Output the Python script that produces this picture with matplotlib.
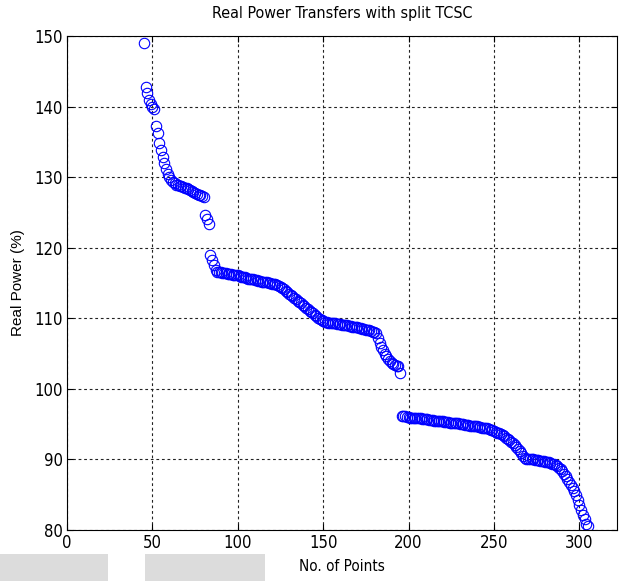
import matplotlib
matplotlib.use('Agg')
import matplotlib.pyplot as plt
import numpy as np
from matplotlib.patches import Rectangle
from matplotlib import font_manager

# first sample index of the series
first_point = 45

# real power (%), one value per point, in four runs
power_a = [149.0, 142.8, 141.9, 141.0, 140.4, 140.0, 139.6, 137.3, 136.2, 134.8,
           133.9, 132.8, 132.0, 131.2, 130.5, 130.0, 129.6, 129.3, 129.1, 128.9,
           128.9, 128.8, 128.7, 128.6, 128.5, 128.4, 128.3, 128.2, 128.0, 127.9,
           127.8, 127.6, 127.5, 127.4, 127.3, 127.2]
power_b = [124.6, 124.0, 123.3]
power_c = [118.9, 118.2, 117.5, 116.9, 116.6, 116.5, 116.5, 116.4, 116.4, 116.4,
           116.3, 116.3, 116.3, 116.2, 116.2, 116.1, 116.1, 116.0, 115.9, 115.8,
           115.8, 115.7, 115.6, 115.6, 115.5, 115.5, 115.4, 115.4, 115.3, 115.3,
           115.2, 115.2, 115.1, 115.1, 115.0, 115.0, 114.9, 114.9, 114.8, 114.7,
           114.6, 114.5, 114.3, 114.1, 113.9, 113.7, 113.5, 113.3, 113.1, 112.9,
           112.7, 112.5, 112.3, 112.1, 111.9, 111.7, 111.5, 111.3, 111.1, 110.9,
           110.7, 110.5, 110.3, 110.1, 109.9, 109.7, 109.6, 109.5, 109.5, 109.4,
           109.4, 109.3, 109.3, 109.3, 109.2, 109.2, 109.2, 109.1, 109.1, 109.0,
           109.0, 108.9, 108.9, 108.8, 108.8, 108.7, 108.7, 108.6, 108.6, 108.5,
           108.5, 108.4, 108.3, 108.3, 108.2, 108.1, 108.0, 107.9, 107.2, 106.5,
           106.0, 105.5, 105.0, 104.6, 104.2, 103.9, 103.7, 103.5, 103.4, 103.3,
           103.2, 102.2]
power_d = [96.2, 96.1, 96.1, 96.0, 96.0, 95.9, 95.9, 95.9, 95.8, 95.8,
           95.8, 95.8, 95.7, 95.7, 95.7, 95.7, 95.6, 95.6, 95.6, 95.5,
           95.5, 95.5, 95.4, 95.4, 95.4, 95.3, 95.3, 95.3, 95.2, 95.2,
           95.2, 95.1, 95.1, 95.1, 95.0, 95.0, 95.0, 94.9, 94.9, 94.9,
           94.8, 94.8, 94.8, 94.7, 94.7, 94.6, 94.6, 94.5, 94.5, 94.4,
           94.4, 94.3, 94.2, 94.1, 94.0, 93.9, 93.8, 93.7, 93.6, 93.4,
           93.3, 93.1, 92.9, 92.7, 92.5, 92.3, 92.0, 91.8, 91.5, 91.2,
           90.9, 90.5, 90.2, 90.1, 90.1, 90.0, 90.0, 90.0, 89.9, 89.9,
           89.9, 89.8, 89.8, 89.8, 89.7, 89.7, 89.6, 89.5, 89.4, 89.3,
           89.2, 89.0, 88.8, 88.6, 88.3, 88.0, 87.6, 87.2, 86.8, 86.4,
           86.0, 85.5, 84.9, 84.2, 83.6, 82.8, 82.1, 81.5, 80.9, 80.5]

x_ticks = [0, 50, 100, 150, 200, 250, 300]
y_ticks = [80, 90, 100, 110, 120, 130, 140, 150]

power = np.array(power_a + power_b + power_c + power_d)
points = np.arange(first_point, first_point + len(power))

# narrow face for ticks / title, like the matlab export
installed = {f.name for f in font_manager.fontManager.ttflist}
if 'Liberation Sans Narrow' in installed:
    narrow = dict(family=['Liberation Sans Narrow', 'DejaVu Sans'])
else:
    narrow = dict(family=['DejaVu Sans'], stretch='condensed')

fig = plt.figure(figsize=(6.2, 5.81), dpi=100)
ax = fig.add_axes([67/620, 1 - 530/581, 550/620, 494/581])

ax.plot(points, power, 'o', markerfacecolor='none', markeredgecolor='#0000ff',
        markersize=7.5, markeredgewidth=0.8)

ax.set_xlim(0, 322)
ax.set_ylim(80, 150)
ax.set_xticks(x_ticks)
ax.set_yticks(y_ticks)
ax.grid(True, color='#222222', linestyle=(0, (2.5, 2.5)), linewidth=0.8)
ax.tick_params(direction='in', top=True, right=True, length=4, width=0.8,
               labelsize=12, pad=3)
for lab in ax.get_xticklabels() + ax.get_yticklabels():
    lab.set_fontproperties(font_manager.FontProperties(size=12, **narrow))
for sp in ax.spines.values():
    sp.set_linewidth(0.8)

ax.set_title('Real Power Transfers with split TCSC', fontsize=11.5, pad=13,
             **narrow)
ax.set_xlabel('No. of Points', fontsize=11, labelpad=5, **narrow)
ax.set_ylabel('Real Power (%)', family=['Liberation Sans', 'DejaVu Sans'],
              fontsize=11, labelpad=7)

# light grey blocks at the bottom of the scanned figure
fig.patches.append(Rectangle((0, 0), 108/620, 27/581, transform=fig.transFigure,
                             facecolor='#dcdcdc', edgecolor='none', zorder=-1))
fig.patches.append(Rectangle((145/620, 0), 120/620, 27/581, transform=fig.transFigure,
                             facecolor='#dcdcdc', edgecolor='none', zorder=-1))

fig.savefig('out.png', dpi=100)
